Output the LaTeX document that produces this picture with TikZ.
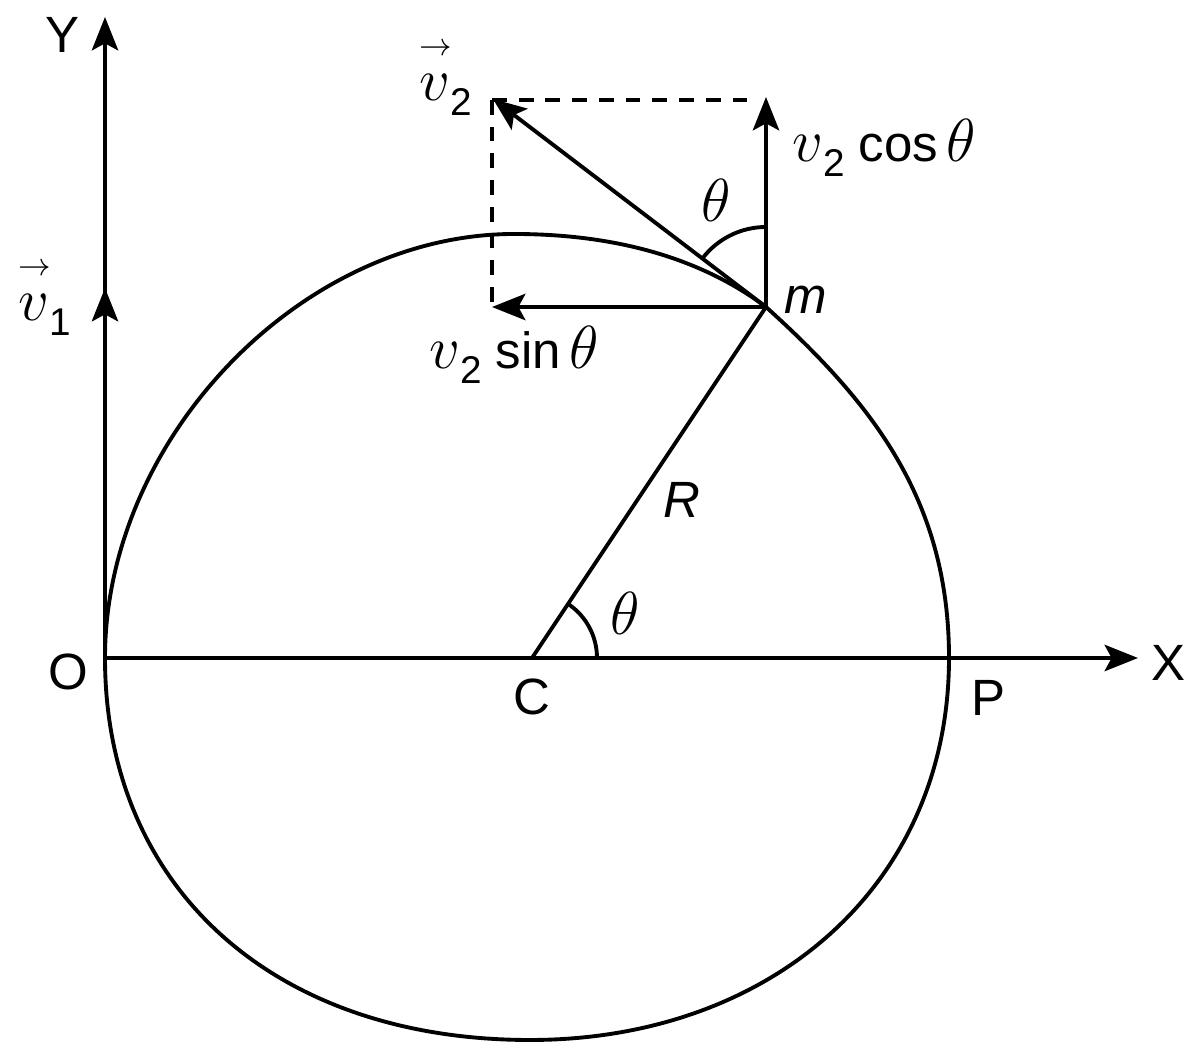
\documentclass[tikz,border=0pt]{standalone}
\usepackage{amsmath}
\usepackage{fontspec}
\setmainfont{Liberation Sans}
\usetikzlibrary{arrows.meta}
\newcommand{\myv}{{\fontsize{17.5}{17.5}\selectfont$v$}}
\newcommand{\myth}{{\fontsize{17}{17}\selectfont$\theta$}}
\newcommand{\mysub}[1]{\raisebox{-0.55ex}{\fontsize{11}{11}\selectfont #1}}
\newcommand{\myvec}[1]{\begin{tabular}{@{}l@{}}{\fontsize{9.5}{9.5}\selectfont$\rightarrow$}\\[-4pt]\myv\mysub{#1}\end{tabular}}
\begin{document}
\begin{tikzpicture}[x=0.01cm,y=0.01cm,line width=1.1pt,
  lbl/.style={font=\fontsize{14.5}{17}\selectfont,inner sep=0pt},
  vecarrow/.style={-{Stealth[length=9.5pt,width=7.5pt,inset=2pt]}},
  dashline/.style={dash pattern=on 4.2pt off 3.4pt},
  curve/.style={line width=1.1pt}]
\useasboundingbox (0,0) rectangle (1200,1046);
% key points
\coordinate (O) at (105,388);
\coordinate (C) at (532,388);
\coordinate (P) at (949,388);
\coordinate (m) at (766,739);
\coordinate (T) at (514,812);
\coordinate (B) at (530,6);
\coordinate (Ytip) at (105,1029);
\coordinate (Xtip) at (1138,388);
\coordinate (v1tip) at (105,758);
\coordinate (v2tip) at (493,947);
\coordinate (costip) at (766,949);
\coordinate (sintip) at (492,739);
\coordinate (corner) at (492,946);
\coordinate (dashend) at (752,946);
% closed curve
\draw[curve] (O) .. controls (105,608) and (302,812) .. (T)
  .. controls (604,812) and (694,793) .. (m)
  .. controls (870,645) and (949,548) .. (P)
  .. controls (949,160) and (770,6) .. (B)
  .. controls (272,6) and (105,160) .. (O);
% axes
\draw[vecarrow] (O) -- (Ytip);
\draw[vecarrow] (O) -- (Xtip);
\draw[vecarrow] (O) -- (v1tip);
% radius and angle at C
\draw (C) -- (m);
\draw (597,388) arc[start angle=0,end angle=56.3,radius=65];
% velocity components
\draw[dashline] (corner) -- (dashend);
\draw[dashline] (corner) -- (sintip);
\draw[vecarrow] (m) -- (v2tip);
\draw[vecarrow] (m) -- (costip);
\draw[vecarrow] (m) -- (sintip);
\draw (766,819) arc[start angle=90,end angle=142.7,radius=80];
% labels
\node[lbl] (Ylab) at (63,1011) {Y};
\node[lbl] (Xlab) at (1168,383) {X};
\node[lbl] (Olab) at (68,374) {O};
\node[lbl] (Clab) at (532,349) {C};
\node[lbl] (Plab) at (988,348) {P};
\node[lbl] (Rlab) at (682,546) {\textit{R}};
\node[lbl] (mlab) at (806,746) {\textit{m}};
\node[lbl] (thC) at (625,433) {\myth};
\node[lbl] (thm) at (716,846) {\myth};
\node[lbl] (v1lab) at (45,760) {\myvec{1}};
\node[lbl] (v2lab) at (446,980) {\myvec{2}};
\node[lbl] (coslab) at (884,898) {\myv\mysub{2} cos\,\myth};
\node[lbl] (sinlab) at (514,691) {\myv\mysub{2} sin\,\myth};
\end{tikzpicture}
\end{document}
